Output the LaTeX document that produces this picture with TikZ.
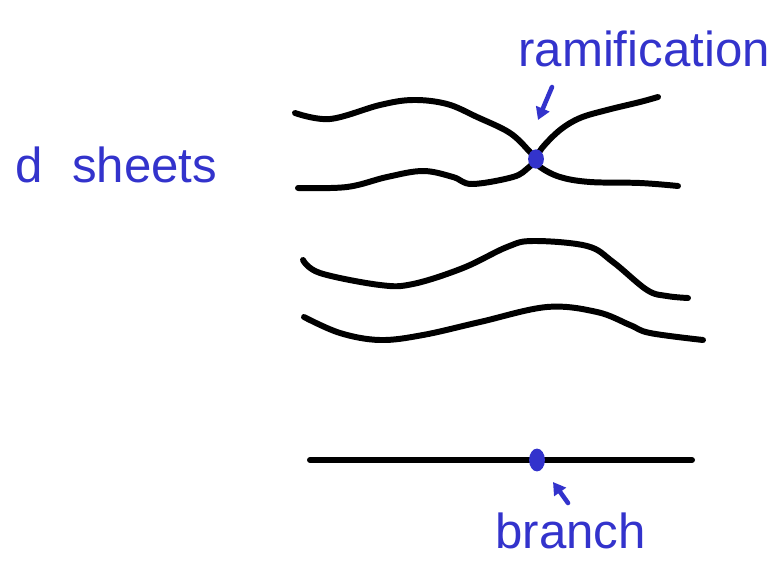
\documentclass[tikz,border=0pt]{standalone}
\usepackage{fontspec}
\setmainfont{Liberation Sans}
\usepackage{tikz}
\usetikzlibrary{arrows.meta,shapes.geometric}
\definecolor{cInk}{HTML}{3333CC}
\definecolor{cPen}{HTML}{000000}
\tikzset{
  sheet/.style  = {draw=cPen, line width=3.4pt, line cap=round, line join=round},
  ptdot/.style  = {ellipse, fill=cInk, inner sep=0pt},
  ptarr/.style  = {-{Triangle[length=7pt,width=8pt]}, draw=cInk, line width=2.6pt, line cap=round},
  inklab/.style = {font=\fontsize{28}{30}\selectfont, text=cInk, inner sep=0pt},
}

\begin{document}
\begin{tikzpicture}[x=0.02cm, y=-0.02cm]
      \useasboundingbox (0,0) rectangle (776,571);

      % ---- SHEETS ----
      \draw[sheet] plot[smooth, tension=0.6] coordinates {(295,113) (330,119) (380,105) (413,100) (447,104) (477,117) (510,133) (530,152) (536,159)};
      \draw[sheet] plot[smooth, tension=0.6] coordinates {(536,159) (542,148) (560,130) (580,118) (607,110) (640,102) (658,97)};
      \draw[sheet] plot[smooth, tension=0.6] coordinates {(298,188) (347,187) (387,177) (423,171) (453,177) (472,184) (513,177) (528,168) (536,160)};
      \draw[sheet] plot[smooth, tension=0.6] coordinates {(536,160) (540,167) (560,177) (590,182) (640,183) (678,186)};
      \draw[sheet] plot[smooth, tension=0.6] coordinates {(303,260) (320,273) (380,285) (413,284) (463,268) (507,247) (533,241) (587,246) (613,262) (647,290) (667,296) (688,298)};
      \draw[sheet] plot[smooth, tension=0.6] coordinates {(304,317) (340,333) (380,340) (423,335) (480,322) (547,307) (597,312) (630,325) (650,333) (703,340)};

      % ---- BASE ----
      \coordinate (bl) at (310,460);
      \coordinate (br) at (692,460);
      \draw[sheet] (bl) -- (br);

      % ---- POINTS ----
      \node[ptdot, minimum width=9pt, minimum height=11pt] (ram) at (536,159) {};
      \node[ptdot, minimum width=9pt, minimum height=13pt] (brp) at (537,460) {};

      % ---- LABELS ----
      \node[inklab, anchor=base west] (dsh) at (15,182) {d\hspace{0.6em}sheets};
      \node[inklab, anchor=base west] (ramlab) at (518,67) {ramification};
      \node[inklab, anchor=base west] (brlab) at (495,548) {branch};

      % ---- ARROWS ----
      \coordinate (ramtail) at (552,87);
      \coordinate (ramhead) at (538,120);
      \coordinate (brtail) at (568,503);
      \coordinate (brhead) at (553,482);
      \draw[ptarr] (ramtail) -- (ramhead);
      \draw[ptarr] (brtail) -- (brhead);
    \end{tikzpicture}
\end{document}
